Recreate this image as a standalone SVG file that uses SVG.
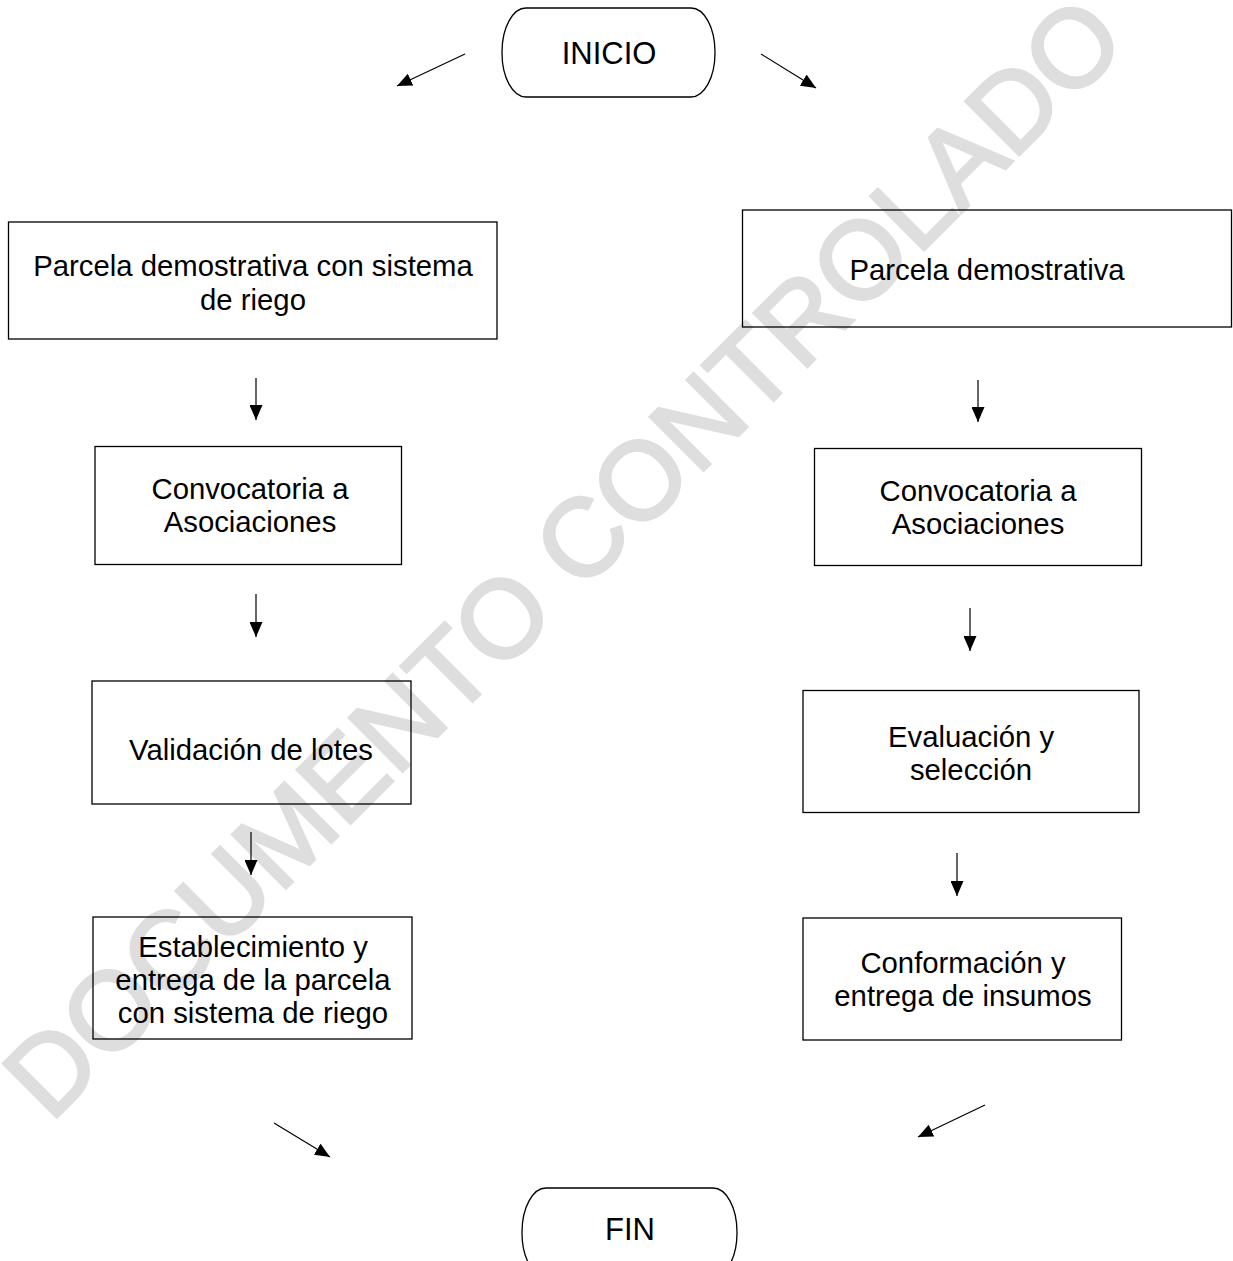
<svg xmlns="http://www.w3.org/2000/svg" width="1233" height="1261" viewBox="0 0 1233 1261">
<style>
.box{fill:none;stroke:#000;stroke-width:1.3}
.term{fill:none;stroke:#000;stroke-width:1.3}
.t{font-family:"Liberation Sans",Arial,sans-serif;font-size:29.3px;fill:#000;text-anchor:middle}
.tt{font-family:"Liberation Sans",Arial,sans-serif;font-size:31px;fill:#000;text-anchor:middle}
.wm{font-family:"Liberation Sans",Arial,sans-serif;font-size:110px;font-weight:normal;fill:#dedede;text-anchor:middle}
.c{stroke:#000;stroke-width:1.2;fill:none;marker-end:url(#ah)}
</style>
<defs>
<marker id="ah" markerUnits="userSpaceOnUse" markerWidth="15" markerHeight="13" refX="15" refY="6.5" orient="auto" viewBox="0 0 15 13">
<path d="M0,0 L15,6.5 L0,13 z" fill="#000"/>
</marker>
</defs>
<rect width="1233" height="1261" fill="#fff"/>
<text class="wm" x="590" y="584" transform="rotate(-45 590 584)" stroke="#dedede" stroke-width="3">DOCUMENTO CONTROLADO</text>
<g id="inicio">
<rect class="term" x="502" y="8" width="213" height="89" rx="24" ry="44"/>
<text class="tt" x="609" y="64">INICIO</text>
</g>
<g id="l1">
<rect class="box" x="8.5" y="222" width="488.5" height="117"/>
<text class="t" x="253" y="276">Parcela demostrativa con sistema</text>
<text class="t" x="253" y="310">de riego</text>
</g>
<g id="r1">
<rect class="box" x="742.5" y="210" width="489" height="117"/>
<text class="t" x="987" y="280">Parcela demostrativa</text>
</g>
<g id="l2">
<rect class="box" x="95" y="446.5" width="306.5" height="118"/>
<text class="t" x="250" y="499">Convocatoria a</text>
<text class="t" x="250" y="532">Asociaciones</text>
</g>
<g id="r2">
<rect class="box" x="814.5" y="448.5" width="327" height="117"/>
<text class="t" x="978" y="501">Convocatoria a</text>
<text class="t" x="978" y="534">Asociaciones</text>
</g>
<g id="l3">
<rect class="box" x="92" y="681" width="319" height="123"/>
<text class="t" x="251" y="760">Validación de lotes</text>
</g>
<g id="r3">
<rect class="box" x="803" y="690.5" width="336" height="122"/>
<text class="t" x="971" y="747">Evaluación y</text>
<text class="t" x="971" y="780">selección</text>
</g>
<g id="l4">
<rect class="box" x="93" y="917" width="319" height="122"/>
<text class="t" x="253" y="957">Establecimiento y</text>
<text class="t" x="253" y="990">entrega de la parcela</text>
<text class="t" x="253" y="1023">con sistema de riego</text>
</g>
<g id="r4">
<rect class="box" x="803" y="918" width="318.5" height="122"/>
<text class="t" x="963" y="973">Conformación y</text>
<text class="t" x="963" y="1006">entrega de insumos</text>
</g>
<g id="fin">
<rect class="term" x="522" y="1188" width="215" height="89" rx="24" ry="44"/>
<text class="tt" x="630" y="1240">FIN</text>
</g>
<g id="connectors">
<line class="c" x1="465" y1="54" x2="397" y2="86"/>
<line class="c" x1="761" y1="54" x2="816" y2="88"/>
<line class="c" x1="256" y1="378" x2="256" y2="420"/>
<line class="c" x1="978" y1="380" x2="978" y2="422"/>
<line class="c" x1="256" y1="594" x2="256" y2="637"/>
<line class="c" x1="970" y1="608" x2="970" y2="651"/>
<line class="c" x1="251" y1="832" x2="251" y2="875"/>
<line class="c" x1="957" y1="853" x2="957" y2="896"/>
<line class="c" x1="274" y1="1123" x2="330" y2="1157"/>
<line class="c" x1="985" y1="1105" x2="918" y2="1137"/>
</g>
</svg>
